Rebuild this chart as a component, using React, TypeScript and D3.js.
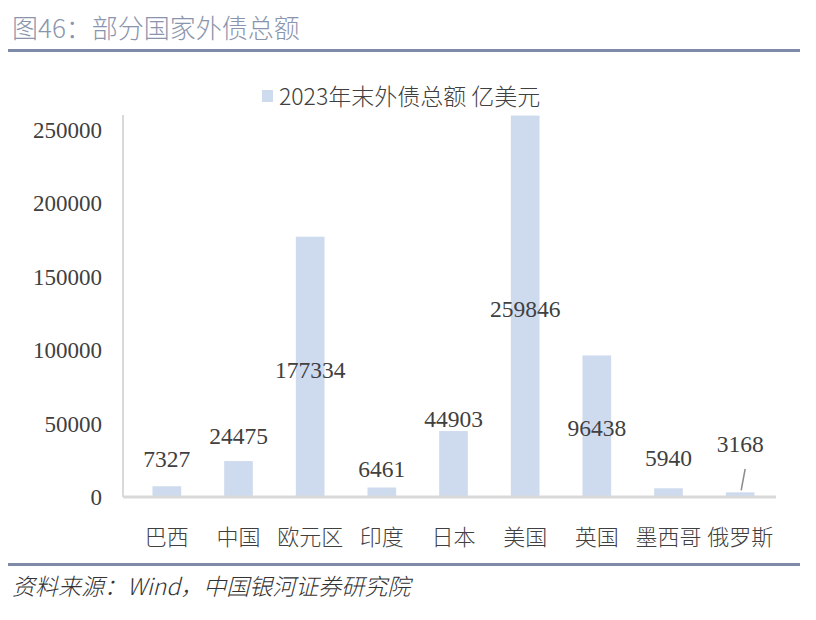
import React from "react";
import * as d3 from "d3";

const categories = ["巴西", "中国", "欧元区", "印度", "日本", "美国", "英国", "墨西哥", "俄罗斯"];
const values = [7327, 24475, 177334, 6461, 44903, 259846, 96438, 5940, 3168];
// data-label anchor heights (in value units) as placed in the original chart
const labelAt = [25900, 41500, 86500, 19100, 53100, 128000, 47000, 26600, 36100];
const yTicks = [0, 50000, 100000, 150000, 200000, 250000];
const seriesName = "2023年末外债总额 亿美元";
const title = "图46：部分国家外债总额";
const source = "资料来源：Wind，中国银河证券研究院";

const W = 816;
const H = 620;
const cjk = "'Noto Sans CJK SC', 'Noto Sans', sans-serif";
const num = "'Liberation Serif', 'DejaVu Serif', serif";

export default function App() {
  const x = d3.scaleBand<string>().domain(categories).range([131, 776]).paddingInner(0.6).paddingOuter(0.3);
  const y = d3.scaleLinear().domain([0, 250000]).range([497, 130]);
  const barColor = "#cedaee";
  const text = "#404040";
  const last = categories.length - 1;
  const lx = (x(categories[last]) as number) + x.bandwidth() / 2;

  return (
    <svg width={W} height={H} style={{ position: "absolute", left: 0, top: 0, background: "#fff" }}>
      <text x={12} y={38} fontFamily={cjk} fontWeight={300} fontSize={26} fill="#8a95ad">{title}</text>
      <rect x={8} y={49} width={792} height={3} fill="#7e8aa8" />

      <rect x={262} y={90} width={11} height={12} fill={barColor} />
      <text x={279} y={105} fontFamily={cjk} fontWeight={300} fontSize={23} fill={text}>{seriesName}</text>

      <line x1={123} x2={123} y1={115} y2={497} stroke="#d9d9d9" strokeWidth={2} />
      {yTicks.map((t) => (
        <text key={t} x={102} y={y(t) + 8} textAnchor="end" fontFamily={num} fontSize={23} fill={text}>
          {t}
        </text>
      ))}

      {categories.map((c, i) => (
        <rect
          key={c}
          x={x(c) as number}
          y={y(values[i])}
          width={x.bandwidth()}
          height={y(0) - y(values[i])}
          fill={barColor}
        />
      ))}
      <line x1={123} x2={776} y1={497} y2={497} stroke="#d9d9d9" strokeWidth={3} />

      {categories.map((c, i) => (
        <text
          key={c + "l"}
          x={(x(c) as number) + x.bandwidth() / 2}
          y={y(labelAt[i]) + 8}
          textAnchor="middle"
          fontFamily={num}
          fontSize={23.5}
          fill={text}
        >
          {values[i]}
        </text>
      ))}
      <line x1={lx + 5} y1={y(labelAt[last]) + 25} x2={lx + 1} y2={y(values[last]) - 2} stroke="#8c8c8c" strokeWidth={1.5} />

      {categories.map((c) => (
        <text
          key={c + "c"}
          x={(x(c) as number) + x.bandwidth() / 2}
          y={545}
          textAnchor="middle"
          fontFamily={cjk}
          fontWeight={300}
          fontSize={22}
          fill={text}
        >
          {c}
        </text>
      ))}

      <rect x={8} y={563} width={792} height={3} fill="#7e8aa8" />
      <text x={12} y={595} fontFamily={cjk} fontWeight={300} fontSize={23} fontStyle="italic" fill="#333">{source}</text>
    </svg>
  );
}
